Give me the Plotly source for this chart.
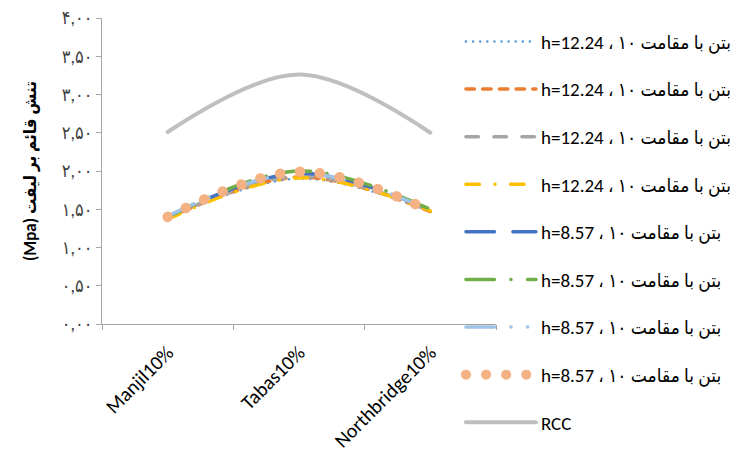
import plotly.graph_objects as go

categories = ["Manjil10%", "Tabas10%", "Northbridge10%"]

series_names = [
    "h=12.24 ، ۱۰ بتن با مقامت",
    "h=12.24 ، ۱۰ بتن با مقامت",
    "h=12.24 ، ۱۰ بتن با مقامت",
    "h=12.24 ، ۱۰ بتن با مقامت",
    "h=8.57 ، ۱۰ بتن با مقامت",
    "h=8.57 ، ۱۰ بتن با مقامت",
    "h=8.57 ، ۱۰ بتن با مقامت",
    "h=8.57 ، ۱۰ بتن با مقامت",
    "RCC",
]

s1 = [1.38, 1.90, 1.47]
s2 = [1.38, 1.92, 1.47]
s3 = [1.39, 1.93, 1.48]
s4 = [1.37, 1.91, 1.48]
s5 = [1.40, 1.97, 1.49]
s6 = [1.40, 2.00, 1.50]
s7 = [1.41, 1.97, 1.49]
s8 = [1.40, 1.99, 1.48]
rcc = [2.51, 3.26, 2.50]
values = [s1, s2, s3, s4, s5, s6, s7, s8, rcc]

y_tickvals = [0, 0.5, 1, 1.5, 2, 2.5, 3, 3.5, 4]
y_ticktext = ["۰,۰۰", "۰,۵۰", "۱,۰۰", "۱,۵۰", "۲,۰۰", "۲,۵۰", "۳,۰۰", "۳,۵۰", "۴,۰۰"]
y_title = "(Mpa) تنش قائم بر لیفت"

colors = ["#5B9BD5", "#ED7D31", "#A5A5A5", "#FFC000", "#4472C4",
          "#70AD47", "#9DC3E6", "#F4B183", "#BFBFBF"]
widths = [2.5, 3.5, 3.5, 3.5, 3.5, 3.5, 3.5, 10.5, 4]
dashes = [
    "0.1px,7px",
    "8.5px,8.2px",
    "12.5px,15.5px",
    "13.5px,15.5px,0.1px,15.5px",
    "28.5px,18.5px",
    "28.5px,16.5px,0.1px,16.5px",
    "28.5px,16.5px,0.1px,16.5px,0.1px,16.5px",
    "0.1px,20px",
    "solid",
]

FONT = "Calibri, Carlito, Lato, 'DejaVu Sans Condensed', 'DejaVu Sans', sans-serif"

fig = go.Figure()
for i, (name, vals) in enumerate(zip(series_names, values)):
    fig.add_trace(go.Scatter(
        x=categories, y=vals, name=name, mode="lines",
        line=dict(color=colors[i], width=widths[i], dash=dashes[i],
                  shape="spline", smoothing=1),
        legendgroup="g%d" % i,
    ))

fig.update_layout(
    width=733, height=454,
    margin=dict(l=102, r=237, t=18, b=130, autoexpand=False),
    paper_bgcolor="white", plot_bgcolor="white",
    font=dict(family=FONT, color="#000000", size=15),
    showlegend=True,
    legend=dict(
        x=0.911, y=0.985, xanchor="left", yanchor="top",
        bgcolor="rgba(0,0,0,0)", font=dict(size=19, color="#000000"),
        itemwidth=70, tracegroupgap=19.9, traceorder="grouped",
        maxheight=480,
    ),
    xaxis=dict(
        type="category", categoryorder="array", categoryarray=categories,
        range=[-0.5, 2.5], tickson="boundaries", ticks="outside", ticklen=5,
        tickcolor="#A6A6A6", showline=True, linecolor="#A6A6A6", linewidth=1,
        showgrid=False, zeroline=False, tickangle=-45, automargin=False,
        ticklabelstandoff=8,
        tickfont=dict(size=20, color="#000000"),
    ),
    yaxis=dict(
        range=[0, 4], tickvals=y_tickvals, ticktext=y_ticktext,
        ticks="outside", ticklen=5, tickcolor="#A6A6A6",
        showline=True, linecolor="#A6A6A6", linewidth=1,
        showgrid=False, zeroline=False, automargin=False,
        tickfont=dict(size=18, color="#404040"),
        title=dict(text="<b>" + y_title + "</b>", standoff=20,
                   font=dict(size=17, color="#000000")),
    ),
)

post_js = """
var s=document.createElement('style');
s.textContent='html,body{margin:0;padding:0;overflow:hidden;} path.js-line{stroke-linecap:round;stroke-linejoin:round;}';
document.head.appendChild(s);
"""
fig.write_html("out.html", post_script=post_js, config={"displayModeBar": False})
